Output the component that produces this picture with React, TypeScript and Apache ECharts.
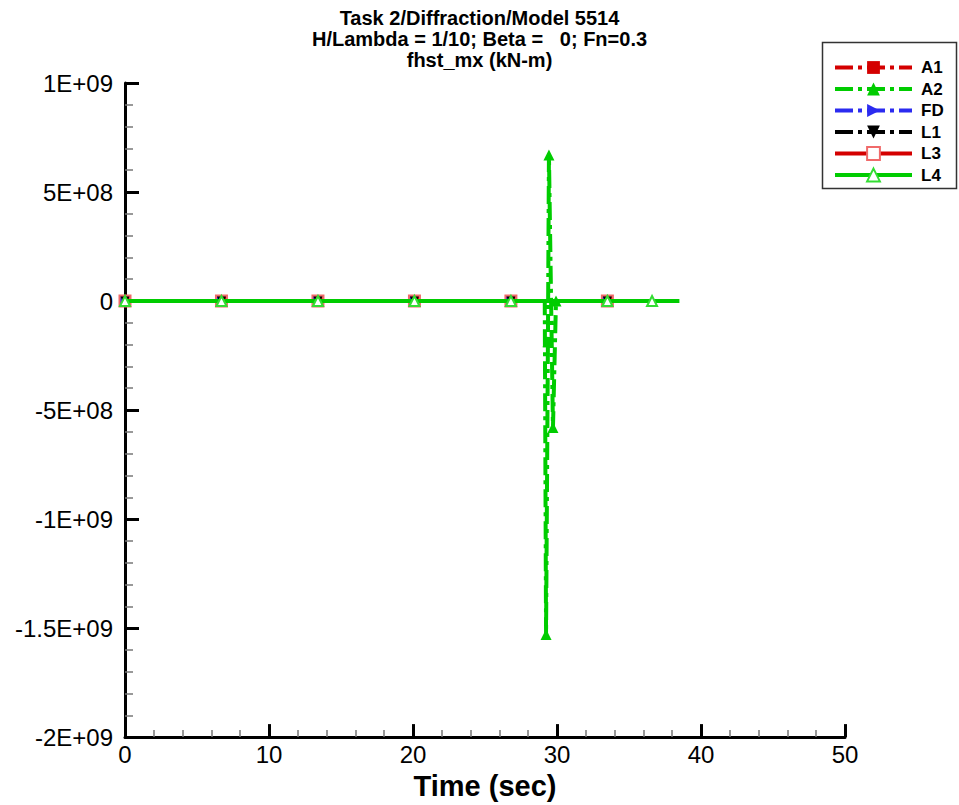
import React, { useEffect, useRef } from "react";
import * as echarts from "echarts";

const titleLines = [
  "Task 2/Diffraction/Model 5514",
  "H/Lambda = 1/10; Beta =   0; Fn=0.3",
  "fhst_mx (kN-m)",
];
const xAxisName = "Time (sec)";
const seriesNames = ["A1", "A2", "FD", "L1", "L3", "L4"];

const a1Time = [0, 6.7, 13.4, 20.1, 26.8, 33.5];
const a1Value = [0, 0, 0, 0, 0, 0];
const a2Time = [0, 6.7, 13.4, 20.1, 26.8, 29.15, 29.24, 29.37, 29.44, 29.72, 29.93];
const a2Value = [0, 0, 0, 0, 0, 0, -1.53e9, -1.87e8, 6.7e8, -5.8e8, 0];
const fdTime = [0, 6.7, 13.4, 20.1, 26.8, 33.5];
const fdValue = [0, 0, 0, 0, 0, 0];
const l1Time = [0, 6.7, 13.4, 20.1, 26.8, 33.5];
const l1Value = [0, 0, 0, 0, 0, 0];
const l3Time = [0, 6.7, 13.4, 20.1, 26.8, 33.5];
const l3Value = [0, 0, 0, 0, 0, 0];
const l4Time = [0, 6.7, 13.4, 20.1, 26.8, 33.5, 36.6, 38.5];
const l4Value = [0, 0, 0, 0, 0, 0, 0, 0];

const FONT = "'Liberation Sans', Arial, sans-serif";

function sci(v: number): string {
  if (Math.abs(v) < 1e-6) return "0";
  const s = v < 0 ? "-" : "";
  const a = Math.abs(v);
  const e = Math.floor(Math.log10(a) + 1e-9);
  const m = a / Math.pow(10, e);
  const ms = parseFloat(m.toFixed(3)).toString();
  return s + ms + "E+" + String(e).padStart(2, "0");
}

function zip(t: number[], v: number[]) {
  return t.map((x, i) => [x, v[i]]);
}

export default function App() {
  const ref = useRef<HTMLDivElement>(null);
  useEffect(() => {
    if (!ref.current) return;
    const chart = echarts.init(ref.current, undefined, { renderer: "svg" });
    const dashDot = [18, 5, 4, 5];
    const mk = (
      name: string,
      t: number[],
      v: number[],
      color: string,
      solid: boolean,
      symbol: string,
      symbolColor: string,
      hidden: number[],
      size: number,
      z: number
    ) => ({
      name,
      type: "line",
      z,
      data: zip(t, v),
      showSymbol: true,
      showAllSymbol: true,
      symbol,
      symbolSize: (_val: any, params: any) =>
        hidden.indexOf(params.dataIndex) >= 0 ? 0 : size,
      itemStyle: { color: symbolColor, borderWidth: 1 },
      lineStyle: { color, width: 4, type: solid ? "solid" : dashDot },
      color,
      silent: true,
    });
    const red = "#d40000";
    const green = "#00cc00";
    const blue = "#2b2bf0";
    const black = "#000000";
    chart.setOption({
      animation: false,
      backgroundColor: "#ffffff",
      title: {
        text: titleLines.join("\n"),
        left: "center",
        top: 2,
        textStyle: {
          fontFamily: FONT,
          fontWeight: "bold",
          fontSize: 20,
          lineHeight: 21,
          color: "#000",
        },
      },
      legend: {
        orient: "vertical",
        left: 833,
        top: 59,
        itemWidth: 77,
        itemHeight: 16,
        itemGap: 4.5,
        padding: 0,
        data: seriesNames,
        lineStyle: { width: 4 },
        textStyle: {
          fontFamily: FONT,
          fontWeight: "bold",
          fontSize: 17,
          color: "#000",
          padding: [0, 0, 0, 4],
        },
      },
      graphic: [
        {
          type: "rect",
          shape: { x: 822.5, y: 42.5, width: 134, height: 146 },
          style: { fill: "none", stroke: "#333", lineWidth: 1.5 },
          silent: true,
        },
      ],
      grid: { left: 125, right: 114, top: 83, bottom: 65, containLabel: false },
      xAxis: {
        type: "value",
        min: 0,
        max: 50,
        interval: 10,
        name: xAxisName,
        nameLocation: "middle",
        nameGap: 33,
        nameTextStyle: {
          fontFamily: FONT,
          fontWeight: "bold",
          fontSize: 29,
          color: "#000",
        },
        axisLine: { onZero: false, lineStyle: { color: "#000", width: 3 } },
        axisTick: { inside: true, length: 13, lineStyle: { color: "#000", width: 3 } },
        minorTick: { show: true, splitNumber: 5, length: 7, lineStyle: { color: "#777", width: 1.5 } },
        axisLabel: { fontFamily: FONT, fontSize: 24, color: "#000", margin: 5 },
        splitLine: { show: false },
      },
      yAxis: {
        type: "value",
        min: -2e9,
        max: 1e9,
        interval: 5e8,
        axisLine: { onZero: false, lineStyle: { color: "#000", width: 3 } },
        axisTick: { inside: true, length: 14, lineStyle: { color: "#000", width: 3 } },
        minorTick: { show: true, splitNumber: 5, length: 8, lineStyle: { color: "#777", width: 1.5 } },
        axisLabel: { fontFamily: FONT, fontSize: 24, color: "#000", margin: 12, formatter: sci },
        splitLine: { show: false },
      },
      series: [
        mk("L3", l3Time, l3Value, red, true, "emptyRect", "#f06a6a", [], 11, 2),
        mk("A1", a1Time, a1Value, red, false, "rect", red, [], 9, 3),
        mk("A2", a2Time, a2Value, green, false, "triangle", green, [5], 11, 4),
        mk("FD", fdTime, fdValue, blue, false, "path://M0,0L10,5L0,10Z", blue, [], 9, 5),
        mk("L1", l1Time, l1Value, black, false, "path://M0,0L10,0L5,10Z", black, [], 9, 6),
        mk("L4", l4Time, l4Value, green, true, "emptyTriangle", "#33dd33", [7], 10, 7),
      ],
    });
    return () => chart.dispose();
  }, []);
  return (
    <div
      ref={ref}
      style={{ position: "fixed", left: 0, top: 0, width: 959, height: 805 }}
    />
  );
}
